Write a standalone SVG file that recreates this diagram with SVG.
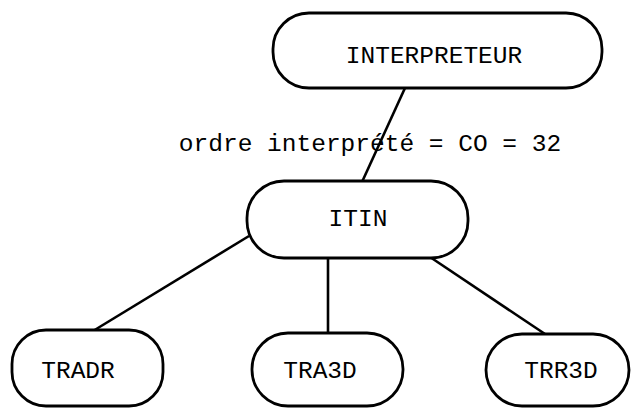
<svg xmlns="http://www.w3.org/2000/svg" width="631" height="408" viewBox="0 0 631 408">
<style>
.box{fill:#fff;stroke:#000;stroke-width:2.8}
.lbl{font-family:"Liberation Mono","Courier New",monospace;font-size:24.5px;fill:#000;text-anchor:middle}
.edge{stroke:#000;stroke-width:2.6;fill:none}
</style>
<rect width="631" height="408" fill="#fff"/>
<g id="connectors">
<line class="edge" x1="405" y1="88" x2="362" y2="182" stroke-width="3"/>
<line class="edge" x1="249" y1="236" x2="93" y2="331"/>
<line class="edge" x1="328" y1="258" x2="328" y2="333"/>
<line class="edge" x1="430" y1="257" x2="545" y2="334"/>
</g>
<text class="lbl" x="370" y="151">ordre interprété = CO = 32</text>
<g id="INTERPRETEUR">
<rect class="box" x="273" y="13" width="329" height="75" rx="36" ry="36"/>
<text class="lbl" x="434" y="63">INTERPRETEUR</text>
</g>
<g id="ITIN">
<rect class="box" x="247" y="181" width="221" height="77" rx="37" ry="37"/>
<text class="lbl" x="358" y="226">ITIN</text>
</g>
<g id="TRADR">
<rect class="box" x="12" y="330" width="151" height="76" rx="34" ry="34"/>
<text class="lbl" x="78" y="378">TRADR</text>
</g>
<g id="TRA3D">
<rect class="box" x="252" y="333" width="151" height="73" rx="36" ry="36"/>
<text class="lbl" x="320" y="378">TRA3D</text>
</g>
<g id="TRR3D">
<rect class="box" x="486" y="334" width="143" height="72" rx="36" ry="36"/>
<text class="lbl" x="561" y="378">TRR3D</text>
</g>
</svg>
